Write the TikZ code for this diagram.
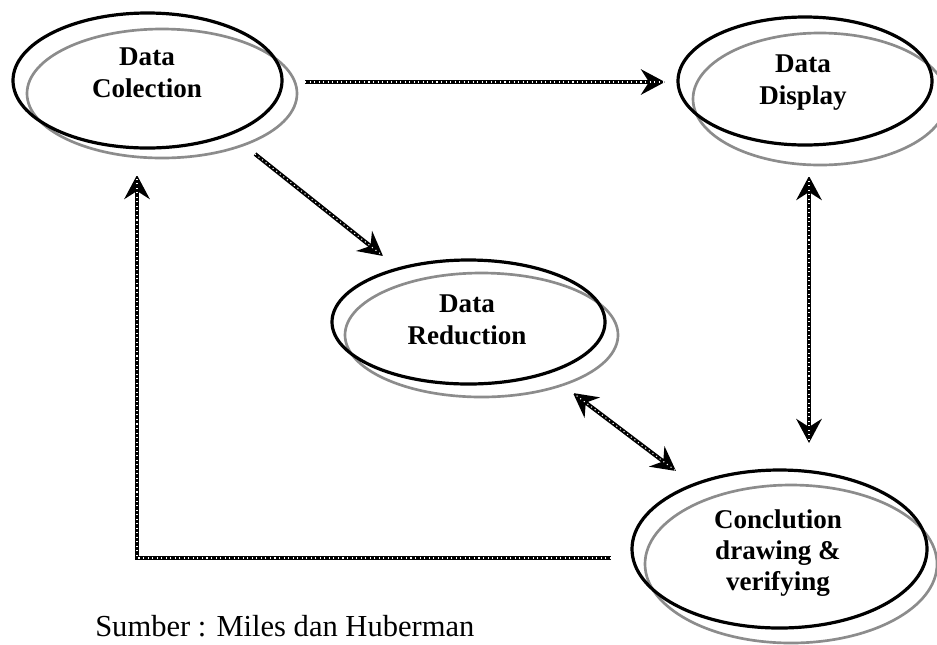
\documentclass[tikz,border=0pt]{standalone}
\usepackage{fontspec}
\setmainfont{Liberation Serif}
\usetikzlibrary{arrows.meta,shapes.geometric}
\definecolor{shadowgray}{RGB}{140,140,140}
\begin{document}
\begin{tikzpicture}[x=0.75pt,y=-0.75pt,
  blk/.style={ellipse, draw=black, line width=2.4pt, inner sep=0pt},
  gry/.style={ellipse, draw=shadowgray, line width=2pt, inner sep=0pt},
  lbl/.style={font=\bfseries\fontsize{20.3}{24}\selectfont, align=center, inner sep=0pt},
  dots/.style={postaction={draw=white, line width=0.8pt, dash pattern=on 0.8pt off 2.6pt, -}},
  arr/.style={line width=3pt, -{Stealth[length=18pt,width=19pt,inset=6pt]}, dots},
  darr/.style={line width=3pt, {Stealth[length=18pt,width=19pt,inset=6pt]}-{Stealth[length=18pt,width=19pt,inset=6pt]}, dots}]
\useasboundingbox (0,0) rectangle (937,644);
\fill[white] (0,0) rectangle (937,644);

% shadow ellipses
\node[gry, minimum width=202.5pt, minimum height=96.75pt] (dcg) at (162,93.5) {};
\node[gry, minimum width=190.5pt, minimum height=99pt] (ddg) at (820,99) {};
\node[gry, minimum width=204.75pt, minimum height=93pt] (drg) at (481.5,335) {};
\node[gry, minimum width=219pt, minimum height=118.5pt] (cdg) at (791,564) {};

% main ellipses
\node[blk, minimum width=201.75pt, minimum height=101.25pt] (dc) at (147.5,80.5) {};
\node[blk, minimum width=190.5pt, minimum height=96pt] (dd) at (805,81) {};
\node[blk, minimum width=204.75pt, minimum height=93pt] (dr) at (468.5,322) {};
\node[blk, minimum width=221.25pt, minimum height=118.5pt] (cd) at (779.5,549) {};

% labels
\node[lbl] (tdc) at (147,73) {Data\\Colection};
\node[lbl] (tdd) at (803,83) {Data\\Display};
\node[lbl] (tdr) at (467,319.5) {Data\\Reduction};
\node[lbl, font=\bfseries\fontsize{20.3}{23.3}\selectfont] (tcd) at (778,553) {Conclution\\drawing \&\\verifying};

% connector ends
\coordinate (a1s) at (305,82);
\coordinate (a1e) at (665,82);
\coordinate (a2s) at (255,154);
\coordinate (a2e) at (383,256);
\coordinate (fbs) at (611,558);
\coordinate (fbc) at (137,558);
\coordinate (fbe) at (137,175);
\coordinate (v1) at (809,176);
\coordinate (v2) at (809,443);
\coordinate (d1) at (573,393);
\coordinate (d2) at (676,471);

\draw[arr] (a1s) -- (a1e);
\draw[arr] (a2s) -- (a2e);
\draw[arr] (fbs) -- (fbc) -- (fbe);
\draw[darr] (v1) -- (v2);
\draw[darr] (d1) -- (d2);

\node[anchor=base west, inner sep=0pt, font=\fontsize{22.9}{27}\selectfont] (src) at (95,636) {Sumber : Miles dan Huberman};
\end{tikzpicture}
\end{document}
